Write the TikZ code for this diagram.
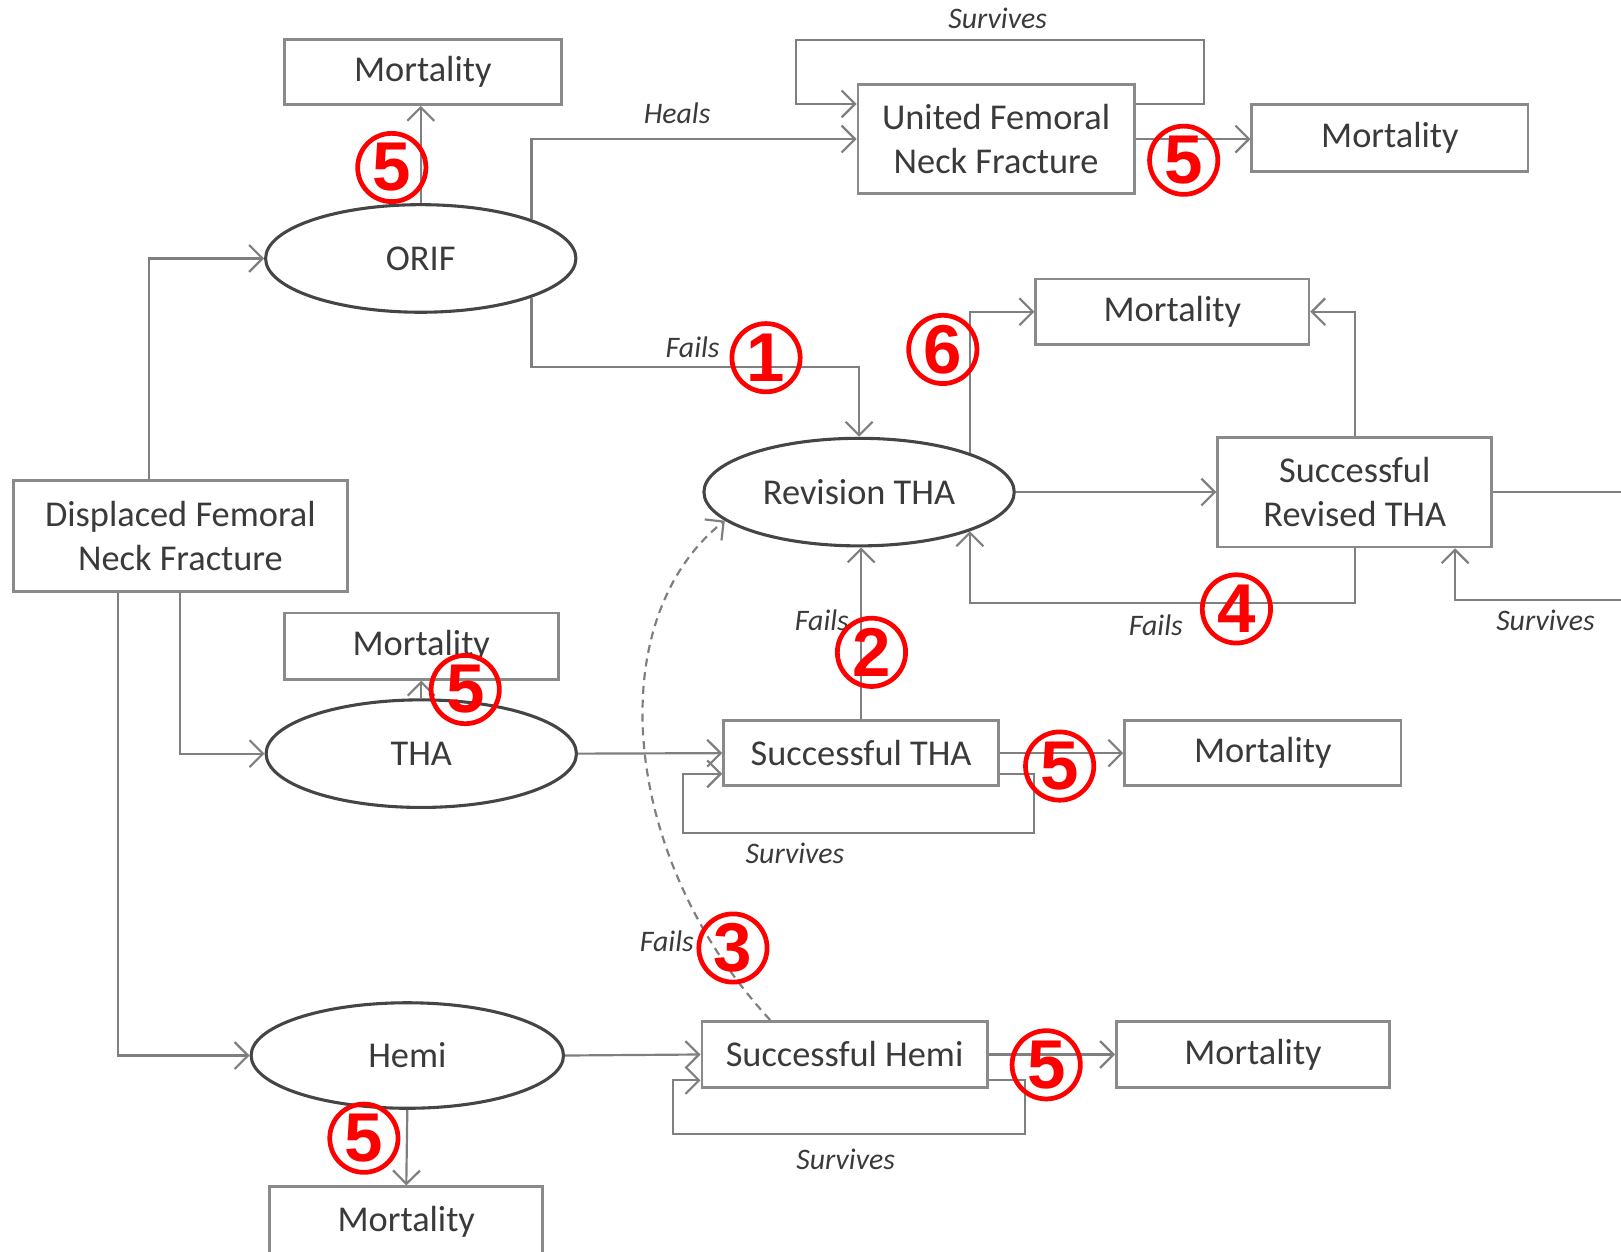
\documentclass[tikz,border=0pt]{standalone}
\usepackage{fontspec}
\setmainfont{Carlito}
\newfontfamily\numfont{Liberation Sans}
\usetikzlibrary{shapes.geometric,arrows.meta,calc}
\definecolor{linegray}{HTML}{7F7F7F}
\definecolor{boxgray}{HTML}{8A8A8A}
\definecolor{ellgray}{HTML}{454545}
\definecolor{txtgray}{HTML}{3A3A3A}
\definecolor{markred}{HTML}{FF0000}
\begin{document}
\begin{tikzpicture}[x=0.01cm,y=-0.01cm,
  box/.style={draw=boxgray,line width=0.75pt,inner sep=0pt,text=txtgray,font=\fontsize{10}{12.2}\selectfont,align=center},
  ell/.style={ellipse,draw=ellgray,line width=0.85pt,inner sep=0pt,minimum width=3cm,minimum height=1.04cm,text=txtgray,font=\fontsize{10}{12}\selectfont},
  conn/.style={draw=linegray,line width=0.6pt,-{Straight Barb[length=1.3mm,width=2.6mm]}},
  plainline/.style={draw=linegray,line width=0.6pt},
  lbl/.style={text=txtgray,font=\fontsize{8.2}{9}\selectfont\itshape,inner sep=0pt},
  redmark/.style={circle,draw=markred,line width=1.3pt,minimum size=0.66cm,inner sep=0pt,text=markred,font=\numfont\bfseries\fontsize{19}{19}\selectfont}
]
\useasboundingbox (0,0) rectangle (1568,1211);

% nodes
\node[box,minimum width=3.23cm,minimum height=1.07cm] (dfnf) at (174.5,518.5) {Displaced Femoral\\Neck Fracture};
\node[ell] (orif) at (407,250) {ORIF};
\node[box,minimum width=2.68cm,minimum height=0.63cm] (m1) at (409,69.5) {Mortality};
\node[box,minimum width=2.67cm,minimum height=1.05cm] (united) at (963.5,134.5) {United Femoral\\Neck Fracture};
\node[box,minimum width=2.67cm,minimum height=0.65cm] (m2) at (1344.5,133.5) {Mortality};
\node[ell] (rev) at (831,476) {Revision THA};
\node[box,minimum width=2.64cm,minimum height=0.63cm] (m3) at (1134,301.5) {Mortality};
\node[box,minimum width=2.65cm,minimum height=1.06cm] (srt) at (1310.5,476) {Successful\\Revised THA};
\node[box,minimum width=2.65cm,minimum height=0.64cm] (m4) at (407.5,625) {Mortality};
\node[ell] (tha) at (407.5,729) {THA};
\node[box,minimum width=2.66cm,minimum height=0.63cm] (stha) at (833,728.5) {Successful THA};
\node[box,minimum width=2.67cm,minimum height=0.63cm] (m5) at (1221.5,728.5) {Mortality};
\node[ell,minimum width=3.02cm,minimum height=1.02cm] (hemi) at (394,1021) {Hemi};
\node[box,minimum width=2.76cm,minimum height=0.64cm] (sh) at (817,1020) {Successful Hemi};
\node[box,minimum width=2.64cm,minimum height=0.64cm] (m6) at (1212,1020) {Mortality};
\node[box,minimum width=2.64cm,minimum height=0.68cm] (m7) at (393,1182) {Mortality};

\coordinate (rexit) at (1590,476);
\coordinate (rsurv) at (1590,580);

% connectors
\draw[conn] ($(dfnf.north)+(-30,0)$) |- (orif.west);
\draw[conn] (dfnf.south) |- (tha.west);
\draw[conn] ($(dfnf.south)+(-60,0)$) |- (hemi.west);
\draw[conn] (orif.north) -- (orif.north |- m1.south);
\draw[conn] (orif.north east) |- (united.west);
\draw[conn] (orif.south east) -- ++(0,67) -| (rev.north);
\draw[conn] ($(united.east)+(0,-34)$) -- ++(66,0) -- ++(0,-62) -| ($(united.west)+(-59,-34)$) -- ($(united.west)+(0,-34)$);
\draw[conn] (united.east) -- (united.east -| m2.west);
\draw[conn] (rev.north east) |- (m3.west);
\draw[conn] (srt.north) |- (m3.east);
\draw[conn] (rev.east) -- (srt.west);
\draw[plainline] (srt.east) -- (rexit);
\draw[conn] (rsurv) -| ($(srt.south)+(97,0)$);
\draw[conn] (srt.south) -- ++(0,53) -| (rev.south east);
\draw[conn] (stha.north) -- (stha.north |- rev.south);
\draw[conn,dash pattern=on 2.2pt off 1.6pt] ($(sh.north)+(-72,0)$) .. controls (600,830) and (580,600) .. (rev.192);
\draw[conn] (tha.north) -- (tha.north |- m4.south);
\draw[conn] (tha.east) -- (stha.west);
\draw[conn] ($(stha.east)+(0,20)$) -- ++(33,0) -- ++(0,57) -| ($(stha.west)+(-38,20)$) -- ($(stha.west)+(0,20)$);
\draw[conn] (stha.east) -- (m5.west);
\draw[conn] (hemi.east) -- (sh.west);
\draw[conn] ($(sh.east)+(0,25)$) -- ++(35,0) -- ++(0,52) -| ($(sh.west)+(-27,25)$) -- ($(sh.west)+(0,25)$);
\draw[conn] (sh.east) -- (m6.west);
\draw[conn] (hemi.south) -- (m7.north);

% labels
\node[lbl] (lheals) at (655,110) {Heals};
\node[lbl] (lsurv1) at (965,18) {Survives};
\node[lbl] (lfail1) at (670,336) {Fails};
\node[lbl] (lfail2) at (795,600) {Fails};
\node[lbl] (lfail4) at (1118,605) {Fails};
\node[lbl] (lsurv2) at (1495,600) {Survives};
\node[lbl] (lsurv3) at (769,825) {Survives};
\node[lbl] (lfail3) at (645,910) {Fails};
\node[lbl] (lsurv4) at (818,1121) {Survives};

% red markers
\node[redmark] (c5a) at (379,162) {5};
\node[redmark] (c5b) at (1145,155) {5};
\node[redmark] (c1) at (741,346) {1};
\node[redmark] (c6) at (912,338) {6};
\node[redmark] (c2) at (843,631) {2};
\node[redmark] (c4) at (1196,589) {4};
\node[redmark] (c5c) at (450,667) {5};
\node[redmark] (c5d) at (1025,741) {5};
\node[redmark] (c3) at (709,917) {3};
\node[redmark] (c5e) at (1012,1030) {5};
\node[redmark] (c5f) at (352,1101) {5};
\end{tikzpicture}
\end{document}
